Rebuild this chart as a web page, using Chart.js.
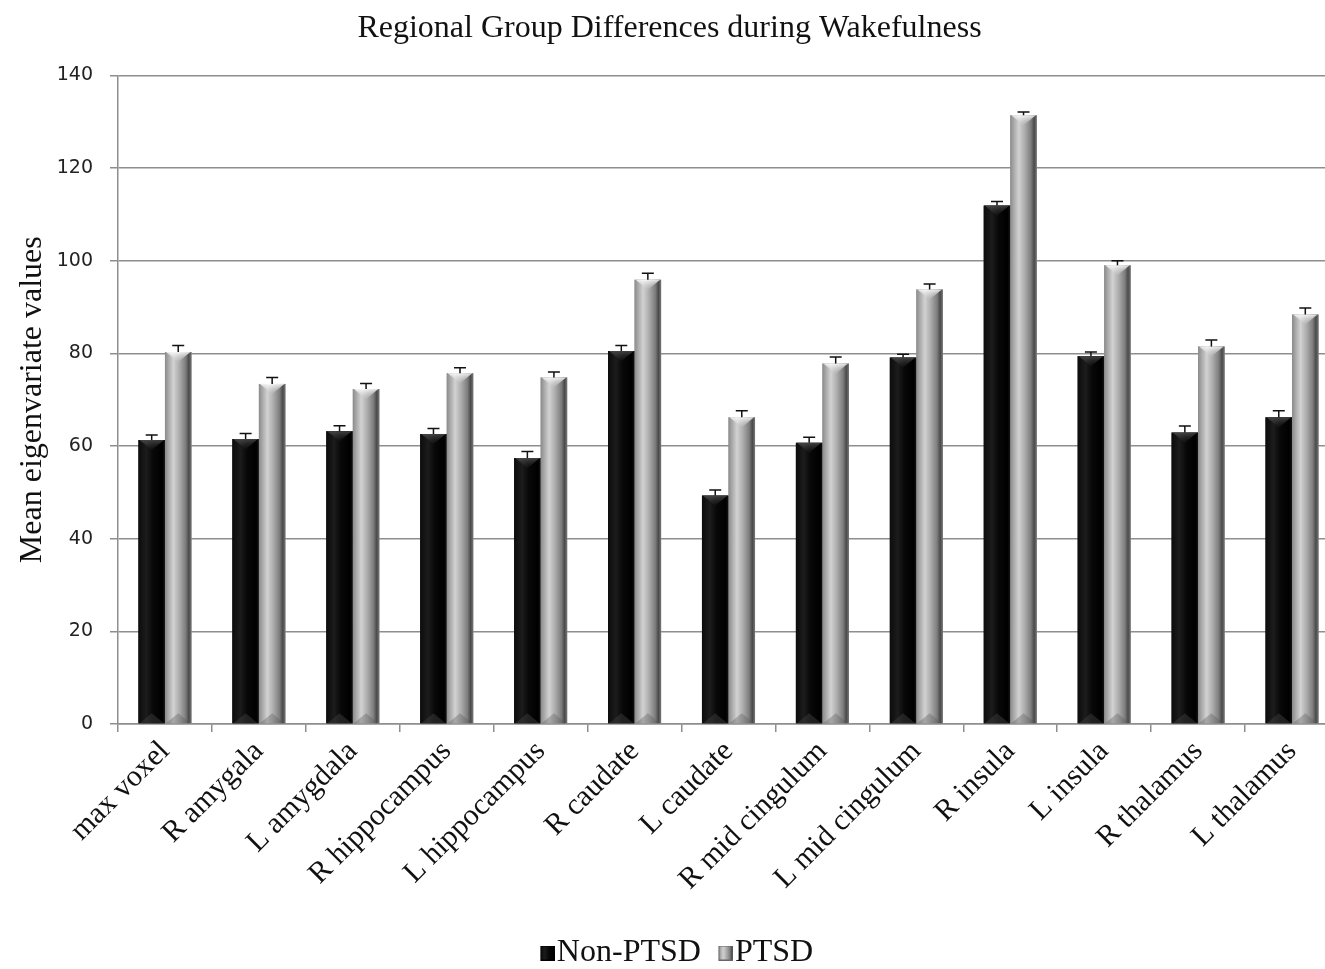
<!DOCTYPE html>
<html>
<head>
<meta charset="utf-8">
<script src="https://cdn.jsdelivr.net/npm/chart.js@4/dist/chart.umd.min.js"></script>
<style>
  html, body { margin: 0; padding: 0; background: #fff; overflow: hidden; }
  #wrap { width: 1345px; height: 969px; }
</style>
</head>
<body>
<div id="wrap"><canvas id="myChart" width="1345" height="969"></canvas></div>
<script>
const categories = [
  "max voxel", "R amygala", "L amygdala", "R hippocampus", "L hippocampus",
  "R caudate", "L caudate", "R mid cingulum", "L mid cingulum", "R insula",
  "L insula", "R thalamus", "L thalamus",
];
const nonPtsd = [61.3, 61.5, 63.2, 62.6, 57.4, 80.5, 49.3, 60.7, 79.1, 111.9, 79.4, 62.9, 66.2];
const ptsd = [80.3, 73.4, 72.3, 75.7, 74.8, 95.9, 66.2, 77.8, 93.8, 131.4, 99.0, 81.5, 88.4];
const nonPtsdErr = [1.1, 1.2, 1.2, 1.2, 1.4, 1.2, 1.2, 1.2, 0.7, 0.9, 0.9, 1.4, 1.4];
const ptsdErr = [1.4, 1.4, 1.2, 1.2, 1.2, 1.4, 1.4, 1.4, 1.2, 0.7, 1.0, 1.4, 1.4];

const serif = "'Liberation Serif', 'Times New Roman', serif";

// horizontal "cylinder" shading for each series
const shades = [
  [[0, "#0c0c0c"], [0.3, "#1c1c1c"], [0.55, "#080808"], [0.9, "#000"], [1, "#151515"]],
  [[0, "#8a8a8a"], [0.12, "#a6a6a6"], [0.32, "#d2d2d2"], [0.55, "#ababab"],
   [0.78, "#7d7d7d"], [0.9, "#4a4a4a"], [1, "#777"]],
];
const chevron = ["rgba(90,90,90,0.7)", "rgba(255,255,255,0.85)"];
const errs = [nonPtsdErr, ptsdErr];

// legend marker: square sits at the right end so the text follows closely
function legendMarker(di) {
  const c = document.createElement("canvas");
  c.width = 44; c.height = 15;
  const x = c.getContext("2d");
  const g = x.createLinearGradient(29, 0, 44, 0);
  shades[di].forEach(([o, col]) => g.addColorStop(o, col));
  x.fillStyle = g;
  x.fillRect(29, 0, 15, 15);
  x.strokeStyle = di ? "#666" : "#000";
  x.strokeRect(29.5, 0.5, 14, 14);
  return c;
}

const barDeco = {
  id: "barDeco",
  afterDatasetsDraw(chart) {
    const ctx = chart.ctx;
    const yScale = chart.scales.y;
    ctx.save();
    chart.data.datasets.forEach((ds, di) => {
      const meta = chart.getDatasetMeta(di);
      meta.data.forEach((bar, i) => {
        const { x, y, base, width } = bar.getProps(["x", "y", "base", "width"], true);
        const l = x - width / 2, r = x + width / 2;
        const g = ctx.createLinearGradient(l, 0, r, 0);
        shades[di].forEach(([o, c]) => g.addColorStop(o, c));
        ctx.fillStyle = g;
        ctx.fillRect(l, y, width, base - y);
        // top bevel
        const h = width * 0.38;
        const tg = ctx.createLinearGradient(0, y, 0, y + h);
        tg.addColorStop(0, chevron[di]);
        tg.addColorStop(1, di ? "rgba(200,200,200,0.2)" : "rgba(40,40,40,0.2)");
        ctx.fillStyle = tg;
        ctx.beginPath();
        ctx.moveTo(l + 1, y);
        ctx.lineTo(r - 1, y);
        ctx.lineTo(x, y + h);
        ctx.closePath();
        ctx.fill();
        // bottom bevel
        ctx.fillStyle = di ? "rgba(90,90,90,0.35)" : "rgba(60,60,60,0.5)";
        ctx.beginPath();
        ctx.moveTo(l + 1, base);
        ctx.lineTo(r - 1, base);
        ctx.lineTo(x, base - h);
        ctx.closePath();
        ctx.fill();
        // error bar (upper only)
        const yTop = yScale.getPixelForValue(ds.data[i] + errs[di][i]);
        ctx.strokeStyle = "#111";
        ctx.lineWidth = 1.5;
        ctx.beginPath();
        ctx.moveTo(x, y);
        ctx.lineTo(x, yTop);
        ctx.moveTo(x - 6, yTop);
        ctx.lineTo(x + 6, yTop);
        ctx.stroke();
      });
    });
    ctx.restore();
  },
};

new Chart(document.getElementById("myChart"), {
  type: "bar",
  data: {
    labels: categories,
    datasets: [
      { label: "Non-PTSD", data: nonPtsd, backgroundColor: "#111", borderWidth: 0, pointStyle: legendMarker(0) },
      { label: "PTSD", data: ptsd, backgroundColor: "#9a9a9a", borderWidth: 0, pointStyle: legendMarker(1) },
    ],
  },
  options: {
    responsive: false,
    animation: false,
    categoryPercentage: 0.565,
    barPercentage: 1.0,
    layout: { padding: { left: 0, right: 6, top: 0, bottom: -10 } },
    plugins: {
      title: {
        display: true,
        text: "Regional Group Differences during Wakefulness",
        color: "#111",
        font: { family: serif, size: 32, weight: "normal" },
        padding: { top: 9, bottom: 28 },
      },
      legend: {
        position: "bottom",
        labels: {
          color: "#111",
          font: { family: serif, size: 32 },
          usePointStyle: true,
          pointStyleWidth: 15,
          boxHeight: 15,
          padding: 3,
        },
      },
      tooltip: { enabled: false },
    },
    scales: {
      y: {
        min: 0,
        max: 140,
        ticks: {
          stepSize: 20,
          color: "#222",
          font: { family: "'DejaVu Sans', Verdana, sans-serif", size: 19 },
          padding: 17,
        },
        grid: { color: "#8e8e8e", lineWidth: 1.5, tickLength: 8 },
        border: { color: "#8e8e8e", width: 1.5 },
        title: {
          display: true,
          text: "Mean eigenvariate values",
          color: "#111",
          font: { family: serif, size: 32 },
          padding: { top: 13, bottom: 4 },
        },
        afterFit(scale) { scale.width = 118; },
      },
      x: {
        ticks: {
          maxRotation: 45,
          minRotation: 45,
          color: "#111",
          font: { family: serif, size: 30 },
          padding: 2,
        },
        grid: { drawOnChartArea: false, color: "#8e8e8e", lineWidth: 1.5, tickLength: 8, offset: true },
        border: { color: "#8e8e8e", width: 1.5 },
        afterFit(scale) { scale.height = 210; },
      },
    },
  },
  plugins: [barDeco],
});
</script>
</body>
</html>
